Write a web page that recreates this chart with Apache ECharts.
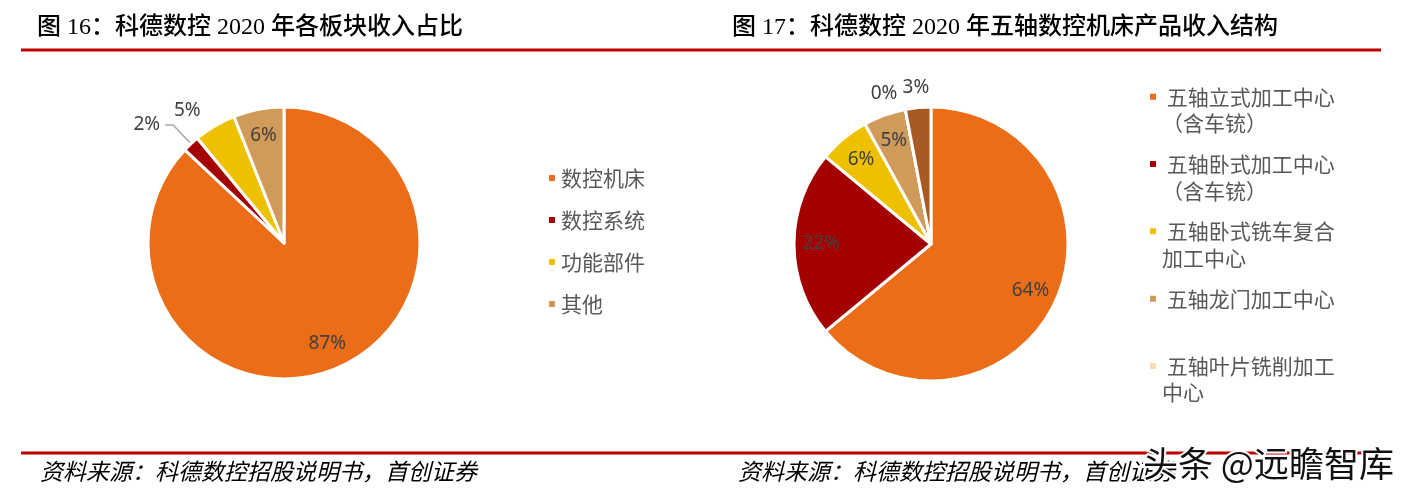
<!DOCTYPE html>
<html><head><meta charset="utf-8">
<script src="https://cdn.jsdelivr.net/npm/echarts@6/dist/echarts.min.js"></script>
<style>html,body{margin:0;padding:0;background:#fff}#c{width:1414px;height:494px}</style>
</head><body><div id="c"></div>
<script>
// ---- data ----
const leftNames = ['数控机床', '数控系统', '功能部件', '其他'];
const leftValues = [87, 2, 5, 6];
const rightNames = ['五轴立式加工中心（含车铳）', '五轴卧式加工中心（含车铳）', '五轴卧式铣车复合加工中心', '五轴龙门加工中心', '五轴叶片铣削加工中心', '其他'];
const rightValues = [64, 22, 6, 5, 0, 3];
const rightLegendNames = rightNames.slice(0, 5);
const rightLegendLines = [['五轴立式加工中心', '（含车铳）'], ['五轴卧式加工中心', '（含车铳）'], ['五轴卧式铣车复合', '加工中心'], ['五轴龙门加工中心', ''], ['五轴叶片铣削加工', '中心']];
const titles = ['图 16：科德数控 2020 年各板块收入占比', '图 17：科德数控 2020 年五轴数控机床产品收入结构'];
const sourceText = '资料来源：科德数控招股说明书，首创证券';
const watermark = '头条 @远瞻智库';

// ---- styles ----
const leftColors = ['#EC6D17', '#A50000', '#EEC000', '#D09A58'];
const rightColors = ['#EC6D17', '#A50000', '#EEC000', '#D09A58', '#F8DDB0', '#A85A24'];
const leftOutside = {1: {line: true, len: 26, len2: 8}, 2: {line: false, len: 18, len2: 0}};
const rightOutside = {4: {line: false, len: 16, len2: 0}, 5: {line: false, len: 20, len2: -18}};
const CJK = 'Noto Sans CJK SC';

function mainPie(center, r, names, values, colors) {
  return {
    type: 'pie', center: center, radius: [0, r], startAngle: 90, clockwise: true, silent: true,
    label: {show: false}, labelLine: {show: false}, emphasis: {disabled: true},
    itemStyle: {borderColor: '#fff', borderWidth: 3},
    data: names.map((n, i) => ({name: n, value: values[i], itemStyle: {color: colors[i]}}))
  };
}
function labelPie(center, r, names, values, outside) {
  return {
    type: 'pie', center: center, radius: [r * 0.56, r], startAngle: 90, clockwise: true, silent: true,
    avoidLabelOverlap: false, emphasis: {disabled: true},
    itemStyle: {color: 'rgba(0,0,0,0)', borderWidth: 0},
    label: {show: true, position: 'inside', formatter: p => p.value + '%', color: '#404040', fontSize: 19, fontFamily: 'Noto Sans'},
    labelLine: {show: false},
    data: names.map((n, i) => {
      const d = {name: n, value: values[i]};
      const o = outside[i];
      if (o) {
        d.label = {position: 'outside', distanceToLabelLine: 5};
        d.labelLine = {show: o.line, length: o.len, length2: o.len2, lineStyle: {color: '#A6A6A6', width: 1.5}};
      }
      return d;
    })
  };
}

const legendText = {fontSize: 21, color: '#595959', fontFamily: CJK};
const option = {
  animation: false,
  backgroundColor: '#fff',
  legend: [
    {orient: 'vertical', left: 547, top: 165, padding: 0, itemWidth: 8, itemHeight: 8, itemGap: 16, icon: 'rect',
      selectedMode: false, data: leftNames, textStyle: Object.assign({lineHeight: 26}, legendText)},
    {orient: 'vertical', left: 1148, top: 57, padding: 0, itemWidth: 8, itemHeight: 8, itemGap: -12.2, icon: 'rect',
      selectedMode: false, data: rightLegendNames,
      formatter: name => {
        const l = rightLegendLines[rightLegendNames.indexOf(name)];
        return ' \n ' + l[0] + '\n' + (l[1] || ' ');
      },
      textStyle: Object.assign({lineHeight: 26.5}, legendText)}
  ],
  series: [
    mainPie([284, 243], 136, leftNames, leftValues, leftColors),
    labelPie([284, 243], 136, leftNames, leftValues, leftOutside),
    mainPie([931, 244], 137, rightNames, rightValues, rightColors),
    labelPie([931, 244], 137, rightNames, rightValues, rightOutside)
  ],
  graphic: [
    {type: 'line', silent: true, shape: {x1: 21, y1: 50, x2: 1381, y2: 50}, style: {stroke: '#C00000', lineWidth: 3}},
    {type: 'line', silent: true, shape: {x1: 21, y1: 453, x2: 1381, y2: 453}, style: {stroke: '#C00000', lineWidth: 3}},
    {type: 'text', silent: true, x: 37, y: 28, style: {text: titles[0], fontSize: 24, fontWeight: 500, fontFamily: '"Liberation Serif", "' + CJK + '"', fill: '#000', verticalAlign: 'middle'}},
    {type: 'text', silent: true, x: 732, y: 28, style: {text: titles[1], fontSize: 24, fontWeight: 500, fontFamily: '"Liberation Serif", "' + CJK + '"', fill: '#000', verticalAlign: 'middle'}},
    {type: 'text', silent: true, x: 40, y: 471, style: {text: sourceText, fontSize: 23, fontStyle: 'italic', fontFamily: CJK, fill: '#000', verticalAlign: 'middle'}},
    {type: 'text', silent: true, x: 738, y: 471, style: {text: sourceText, fontSize: 23, fontStyle: 'italic', fontFamily: CJK, fill: '#000', verticalAlign: 'middle'}},
    {type: 'text', silent: true, z: 100, x: 1143, y: 464, style: {text: watermark, fontSize: 35, fontFamily: CJK, fill: '#111', stroke: '#fff', lineWidth: 4, strokeFirst: true, verticalAlign: 'middle'}}
  ]
};
const chart = echarts.init(document.getElementById('c'), null, {renderer: 'canvas'});
chart.setOption(option);
</script>
</body></html>
